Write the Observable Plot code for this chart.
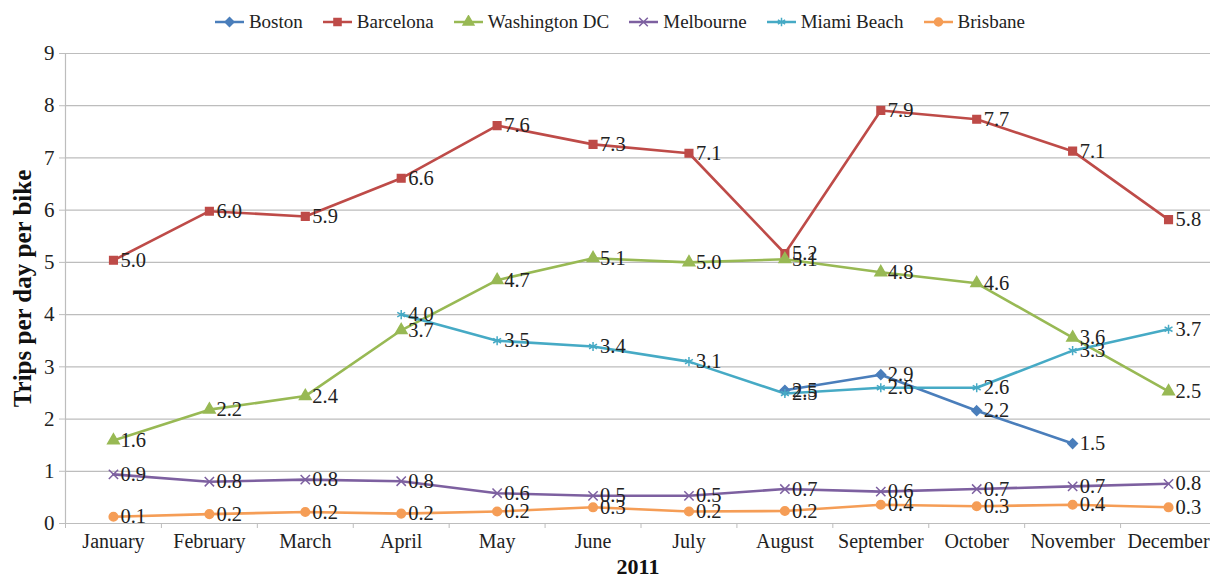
<!DOCTYPE html>
<html>
<head>
<meta charset="utf-8">
<script src="https://cdn.jsdelivr.net/npm/d3@7"></script>
<script src="https://cdn.jsdelivr.net/npm/@observablehq/plot@0.6"></script>
<style>
  body { margin: 0; background: #fff; width: 1210px; overflow: hidden; font-family: "Liberation Serif", "Times New Roman", serif; }
  #legend { height: 40px; display: flex; justify-content: center; align-items: center; gap: 20px; padding-left: 30px; padding-top: 4px; box-sizing: border-box; font-size: 19px; color: #222; }
  .item { display: flex; align-items: center; gap: 5px; }
</style>
</head>
<body>
<div id="legend"></div>
<div id="chart"></div>
<script>
const months = ["January","February","March","April","May","June","July","August","September","October","November","December"];
const cities = ["Boston","Barcelona","Washington DC","Melbourne","Miami Beach","Brisbane"];
const boston     = [null, null, null, null, null, null, null, 2.55, 2.85, 2.16, 1.53, null];
const barcelona  = [5.04, 5.98, 5.88, 6.61, 7.62, 7.26, 7.09, 5.17, 7.91, 7.74, 7.13, 5.82];
const washington = [1.59, 2.18, 2.44, 3.70, 4.66, 5.08, 5.00, 5.06, 4.81, 4.60, 3.56, 2.53];
const melbourne  = [0.94, 0.80, 0.84, 0.81, 0.58, 0.53, 0.53, 0.66, 0.61, 0.66, 0.71, 0.76];
const miami      = [null, null, null, 4.00, 3.50, 3.39, 3.10, 2.49, 2.60, 2.60, 3.31, 3.72];
const brisbane   = [0.13, 0.18, 0.22, 0.19, 0.23, 0.31, 0.23, 0.24, 0.36, 0.33, 0.36, 0.31];
const yTicks = [0,1,2,3,4,5,6,7,8,9];
const yTitle = "Trips per day per bike";
const xTitle = "2011";

const colors = ["#4A7EBB","#BE4B48","#98B954","#7D60A0","#46AAC5","#F59D56"];
const symbols = ["diamond2","square","triangle","times","asterisk","circle"];

const seriesValues = [boston, barcelona, washington, melbourne, miami, brisbane];
const data = [];
cities.forEach((c, i) => seriesValues[i].forEach((v, m) => { if (v != null) data.push({city: c, m, value: v}); }));

const font = "Liberation Serif, Times New Roman, serif";

// Legend
const legend = d3.select("#legend");
const symMap = {diamond2: d3.symbolDiamond2, square: d3.symbolSquare, triangle: d3.symbolTriangle, times: d3.symbolTimes, asterisk: d3.symbolAsterisk, circle: d3.symbolCircle};
cities.forEach((c, i) => {
  const it = legend.append("div").attr("class", "item");
  const svg = it.append("svg").attr("width", 29).attr("height", 14);
  svg.append("line").attr("x1", 0).attr("x2", 29).attr("y1", 7).attr("y2", 7).attr("stroke", colors[i]).attr("stroke-width", 2.5);
  svg.append("path").attr("transform", "translate(14.5,7)").attr("d", d3.symbol(symMap[symbols[i]], 50)())
    .attr("fill", colors[i]).attr("stroke", colors[i]).attr("stroke-width", 1.5);
  it.append("span").text(c);
});

const chart = Plot.plot({
  width: 1210,
  height: 541,
  marginLeft: 65,
  marginRight: 0,
  marginTop: 13,
  marginBottom: 58,
  style: {fontFamily: font, background: "#fff", color: "#222", overflow: "visible"},
  x: {type: "linear", domain: [-0.5, 11.5], range: [65, 1216]},
  y: {domain: [0, 9]},
  color: {domain: cities, range: colors},
  symbol: {domain: cities, range: symbols},
  marks: [
    Plot.ruleY(yTicks, {stroke: "#bdbdbd", strokeWidth: 1.2}),
    Plot.ruleX([-0.5], {stroke: "#bdbdbd", strokeWidth: 1.2}),
    Plot.axisY({ticks: yTicks, tickSize: 6, tickPadding: 5, fontSize: 21, stroke: "#bdbdbd", label: null, tickFormat: d => d}),
    Plot.axisX({ticks: d3.range(-0.5, 12, 1), tickSize: 5, tickFormat: () => "", stroke: "#bdbdbd", label: null}),
    Plot.axisX({ticks: d3.range(0, 12), tickSize: 0, tickPadding: 10, fontSize: 20, tickFormat: i => months[i], label: null}),
    Plot.line(data, {x: "m", y: "value", z: "city", stroke: "city", strokeWidth: 2.6}),
    Plot.dot(data, {x: "m", y: "value", symbol: "city", fill: "city", stroke: "city", r: 4.3, strokeWidth: 1.5}),
    Plot.text(data, {x: "m", y: "value", text: d => d.value.toFixed(1), textAnchor: "start", dx: 7, fontSize: 20.5, fill: "#222"}),
    Plot.text([yTitle], {frameAnchor: "left", textAnchor: "middle", rotate: -90, dx: -43, fontSize: 25, fontWeight: "bold", fill: "#111"}),
    Plot.text([xTitle], {frameAnchor: "bottom", dy: 50, fontSize: 22, fontWeight: "bold", fill: "#111"})
  ]
});
document.getElementById("chart").appendChild(chart);
</script>
</body>
</html>
